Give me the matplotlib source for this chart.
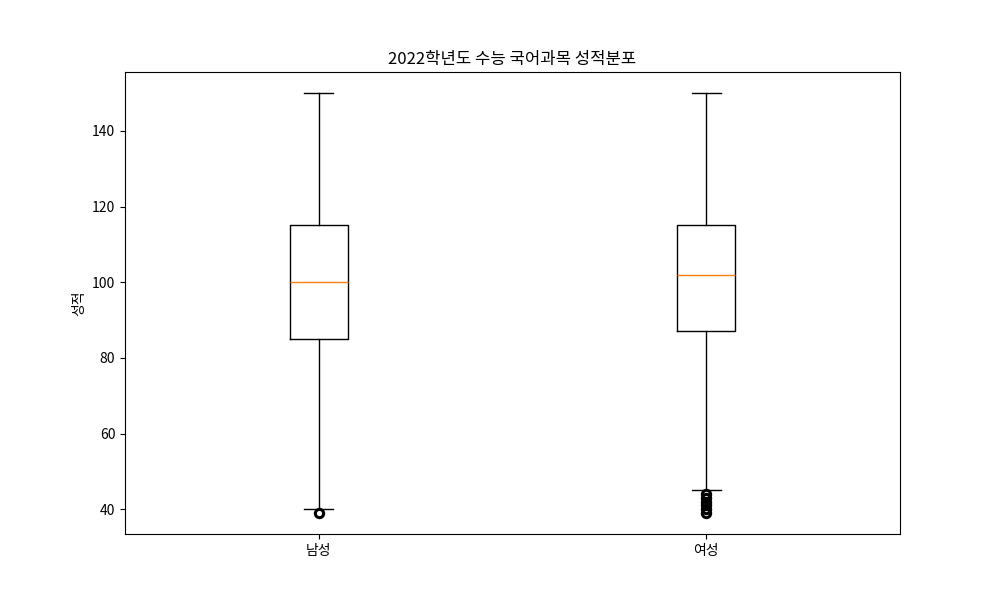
import matplotlib
matplotlib.use('Agg')
import matplotlib.pyplot as plt

plt.rcParams['font.family'] = ['Noto Sans CJK KR', 'DejaVu Sans']
plt.rcParams['axes.unicode_minus'] = False

# 성별 국어 점수 분포
labels = ['남성', '여성']
whislo = [40, 45]
q1 = [85, 87]
med = [100, 102]
q3 = [115, 115]
whishi = [150, 150]
fliers = [[39], [39, 40, 41, 42, 43, 44]]

stats = []
for i in range(len(labels)):
    stats.append({'label': labels[i], 'whislo': whislo[i], 'q1': q1[i], 'med': med[i],
                  'q3': q3[i], 'whishi': whishi[i], 'fliers': fliers[i]})

fig, ax = plt.subplots(figsize=(10, 6), dpi=100)
# 겹친 이상치가 굵게 보이도록 테두리를 두껍게
ax.bxp(stats, flierprops={'markeredgewidth': 2.2})
ax.set_title('2022학년도 수능 국어과목 성적분포')
ax.set_ylabel('성적')
plt.savefig('out.png')
